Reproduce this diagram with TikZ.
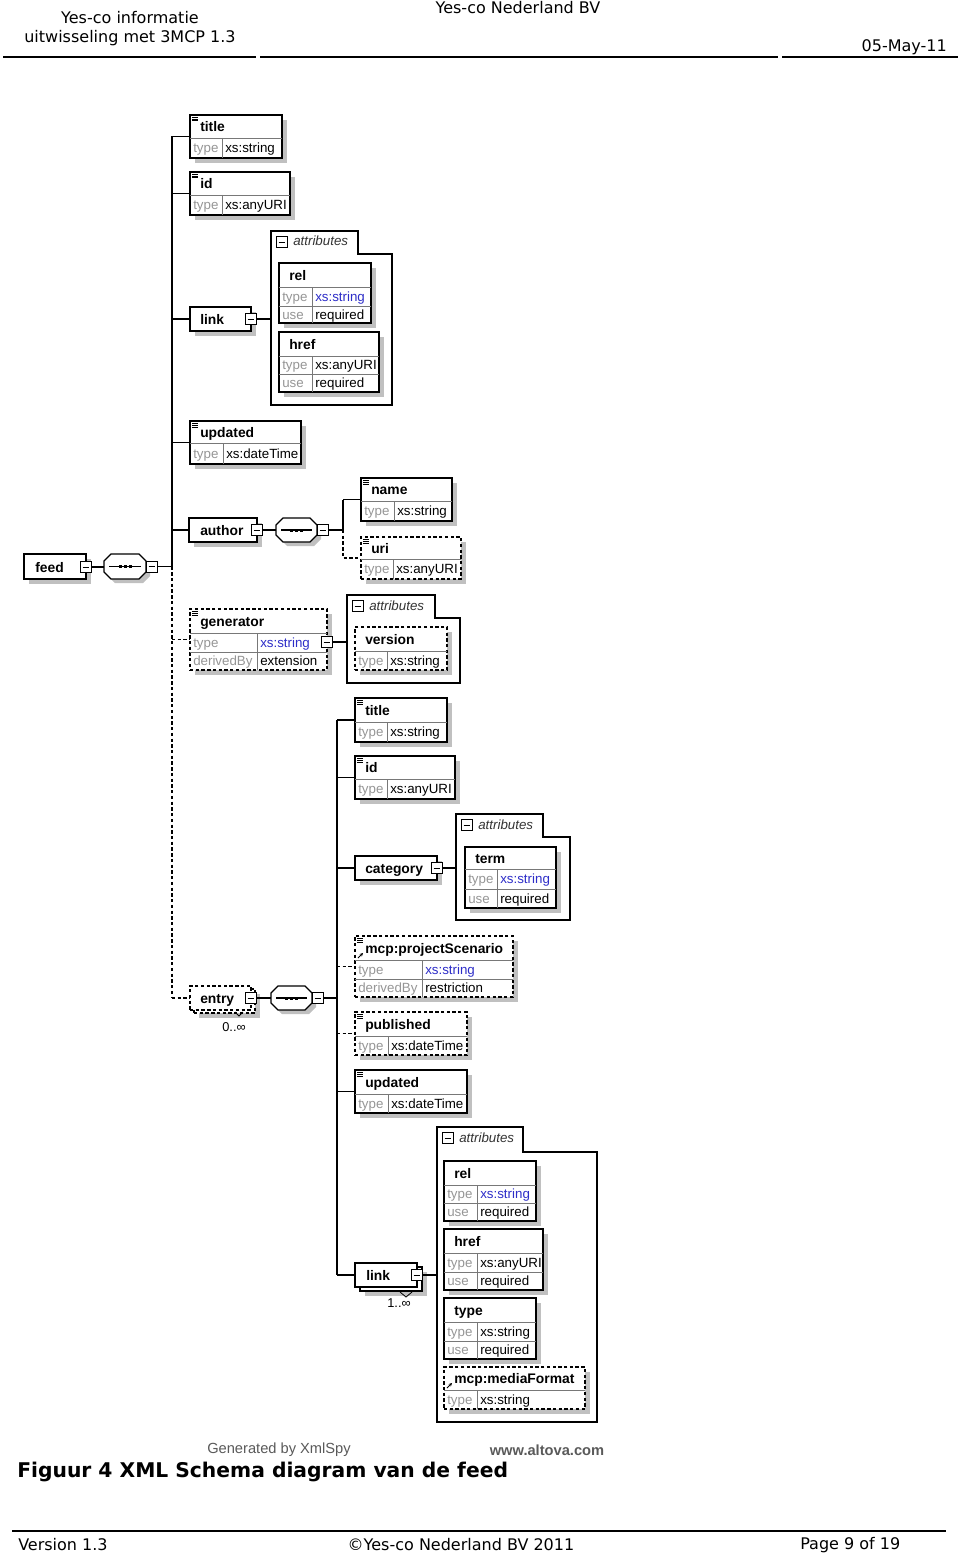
\documentclass[tikz,border=0pt]{standalone}
\usepackage{fontspec}
\setmainfont{Liberation Sans}
\newfontfamily\hdrfont{DejaVu Sans}
\usetikzlibrary{fit,shadows,arrows.meta}
\definecolor{shc}{RGB}{192,192,192}
\definecolor{lblc}{RGB}{150,150,150}
\definecolor{divc}{RGB}{120,120,120}
\definecolor{xsb}{RGB}{45,45,200}
\definecolor{genc}{RGB}{90,90,90}

\newcommand{\elem}[8]{%
  \node[#2, fit={(#3,#4)(#5,#6)}] (#1) {};
  \draw[div] (#3,#7) -- (#5,#7);
  \node[nm] (#1-n) at (#3+10,{(#4+#7)/2+5}) {#8};
}
\newcommand{\erow}[7]{%
  \draw[div] (#5,#3) -- (#5,#4);
  \node[lbl] (#1-l) at (#2+3,{(#3+#4)/2+4.5}) {#6};
  \node[val] (#1-v) at (#5+3,{(#3+#4)/2+4.5}) {#7};
}
\newcommand{\eqic}[2]{%
  \draw[line width=0.45pt] (#1+2,#2+2.2) -- (#1+8,#2+2.2) (#1+2,#2+4) -- (#1+8,#2+4) (#1+2,#2+5.8) -- (#1+8,#2+5.8);
}
\newcommand{\refic}[2]{%
  \draw[line width=0.7pt, -{Stealth[length=2.5pt,width=2.5pt]}] (#1+3,#2-2) -- (#1+8,#2-7);
}
\newcommand{\attrbox}[7]{%
  \draw[line width=1pt, fill=white] (#2,#3) -- (#4,#3) -- (#4,#5) -- (#6,#5) -- (#6,#7) -- (#2,#7) -- cycle;
  \node[inner sep=0pt, fit={(#2,#3)(#6,#7)}] (#1) {};
  \node[minus] (#1-m) at (#2+11,#3+11) {};
  \node[attrt] (#1-t) at (#2+22,#3+15) {attributes};
}
\newcommand{\seqbox}[5]{%
  \begin{scope}[shift={(4,4)}]
    \fill[shc] (#2+7,#3) -- (#4-7,#3) -- (#4,#3+7) -- (#4,#5-7) -- (#4-7,#5) -- (#2+7,#5) -- (#2,#5-7) -- (#2,#3+7) -- cycle;
  \end{scope}
  \draw[line width=1pt, fill=white] (#2+7,#3) -- (#4-7,#3) -- (#4,#3+7) -- (#4,#5-7) -- (#4-7,#5) -- (#2+7,#5) -- (#2,#5-7) -- (#2,#3+7) -- cycle;
  \node[inner sep=0pt, fit={(#2,#3)(#4,#5)}] (#1) {};
  \draw[line width=0.8pt] (#2+5,{(#3+#5)/2}) -- (#4-5,{(#3+#5)/2});
  \foreach \dx in {-5,0,5} \fill ({(#2+#4)/2+\dx-1.5},{(#3+#5)/2-1.5}) rectangle ++(3,3);
  \node[minus] (#1-m) at (#4+6,{(#3+#5)/2}) {};
}

\begin{document}
\begin{tikzpicture}[x=0.75pt,y=-0.75pt,
  shad/.style={drop shadow={shadow xshift=3.5pt, shadow yshift=-3.5pt, fill=shc, draw=none, opacity=1}},
  boxns/.style={draw, line width=1pt, fill=white, inner sep=0pt},
  box/.style={boxns, shad},
  dboxns/.style={boxns, dash pattern=on 2.5pt off 1.8pt},
  dbox/.style={dboxns, shad},
  nm/.style={anchor=base west, inner sep=0pt, font=\bfseries\fontsize{10.4}{12}\selectfont},
  lbl/.style={anchor=base west, inner sep=0pt, font=\fontsize{10}{12}\selectfont, text=lblc},
  val/.style={anchor=base west, inner sep=0pt, font=\fontsize{10}{12}\selectfont},
  attrt/.style={anchor=base west, inner sep=0pt, font=\itshape\fontsize{10}{12}\selectfont, text=black!80},
  div/.style={draw=divc, line width=0.6pt},
  con/.style={line width=1pt},
  dcon/.style={line width=1pt, dash pattern=on 2.5pt off 1.8pt},
  minus/.style={draw, line width=0.7pt, fill=white, minimum size=8.25pt, inner sep=0pt,
    path picture={\draw[line width=0.7pt] ([xshift=1.6pt]path picture bounding box.west) -- ([xshift=-1.6pt]path picture bounding box.east);}},
  hdr/.style={inner sep=0pt, font=\hdrfont\fontsize{12}{14}\selectfont},
  mult/.style={inner sep=0pt, font=\fontsize{9.6}{11}\selectfont}
]
\useasboundingbox (0,0) rectangle (960,1555);
\fill[white] (0,0) rectangle (960,1555);

% ---------- header ----------
\node[hdr] (h1) at (130,18) {Yes-co informatie};
\node[hdr] (h2) at (130,38) {uitwisseling met 3MCP 1.3};
\node[hdr] (h3) at (518,8) {Yes-co Nederland BV};
\node[hdr, anchor=east] (h4) at (947,47) {05-May-11};
\draw[line width=0.8pt] (3,57) -- (256,57) (260,57) -- (778,57) (782,57) -- (958,57);

% ---------- feed level ----------
\elem{title1}{box}{190}{115}{282}{158}{138}{title}
\eqic{190}{115}
\erow{title1r}{190}{138}{158}{222}{type}{xs:string}

\elem{id1}{box}{190}{172}{290}{215}{195}{id}
\eqic{190}{172}
\erow{id1r}{190}{195}{215}{222}{type}{xs:anyURI}

\node[box, fit={(190,307)(251,331)}] (link1) {};
\node[nm] (link1-n) at (200,324) {link};
\node[minus] (link1-m) at (251,319) {};

\attrbox{attr1}{271}{231}{358}{254}{392}{405}
\elem{rel1}{box}{279}{263}{371}{323}{287}{rel}
\draw[div] (279,306) -- (371,306);
\erow{rel1a}{279}{287}{306}{312}{type}{\textcolor{xsb}{xs:string}}
\erow{rel1b}{279}{306}{323}{312}{use}{required}
\elem{href1}{box}{279}{332}{379}{392}{356}{href}
\draw[div] (279,374) -- (379,374);
\erow{href1a}{279}{356}{374}{312}{type}{xs:anyURI}
\erow{href1b}{279}{374}{392}{312}{use}{required}

\elem{upd1}{box}{190}{421}{301}{464}{443}{updated}
\eqic{190}{421}
\erow{upd1r}{190}{443}{464}{223}{type}{xs:dateTime}

\node[box, fit={(189,518)(257,542)}] (author) {};
\node[nm] (author-n) at (200,535) {author};
\node[minus] (author-m) at (257,530) {};
\seqbox{seq2}{276}{518}{317}{542}

\elem{name}{box}{361}{478}{452}{521}{501}{name}
\eqic{361}{478}
\erow{namer}{361}{501}{521}{394}{type}{xs:string}
\elem{uri}{dbox}{361}{537}{461}{579}{559}{uri}
\eqic{361}{537}
\erow{urir}{361}{559}{579}{393}{type}{xs:anyURI}

\node[box, fit={(24,554)(86,579)}] (feed) {};
\node[nm] (feed-n) at (35,572) {feed};
\node[minus] (feed-m) at (86,567) {};
\seqbox{seq1}{104}{554}{146}{579}

\elem{gen}{dbox}{190}{609}{327}{670}{633}{generator}
\eqic{190}{609}
\draw[div] (190,652) -- (327,652);
\erow{gena}{190}{633}{652}{257}{type}{\textcolor{xsb}{xs:string}}
\erow{genb}{190}{652}{670}{257}{derivedBy}{extension}
\node[minus] (gen-m) at (327,642) {};
\attrbox{attr2}{347}{595}{435}{618}{460}{683}
\elem{ver}{dbox}{355}{627}{447}{670}{651}{version}
\erow{verr}{355}{651}{670}{387}{type}{xs:string}

% entry
\node[dbox, fit={(194,989)(255,1013)}] (entryb) {};
\node[dboxns, fit={(190,986)(251,1010)}] (entry) {};
\node[nm] (entry-n) at (200,1003) {entry};
\node[minus] (entry-m) at (251,998) {};
\draw[line width=0.6pt] (235,1012) -- (239,1016) -- (243,1012);
\node[mult] (entry-mult) at (234,1027) {0..∞};
\seqbox{seq3}{271}{986}{312}{1010}

% ---------- entry level ----------
\elem{title2}{box}{355}{698}{447}{742}{722}{title}
\eqic{355}{698}
\erow{title2r}{355}{722}{742}{387}{type}{xs:string}

\elem{id2}{box}{355}{756}{455}{799}{779}{id}
\eqic{355}{756}
\erow{id2r}{355}{779}{799}{387}{type}{xs:anyURI}

\node[box, fit={(355,856)(437,880)}] (cat) {};
\node[nm] (cat-n) at (365,873) {category};
\node[minus] (cat-m) at (437,868) {};
\attrbox{attr3}{456}{814}{543}{837}{570}{920}
\elem{term}{box}{465}{847}{556}{908}{869}{term}
\draw[div] (465,889) -- (556,889);
\erow{terma}{465}{869}{889}{497}{type}{\textcolor{xsb}{xs:string}}
\erow{termb}{465}{889}{908}{497}{use}{required}

\elem{ps}{dbox}{355}{936}{513}{997}{960}{mcp:projectScenario}
\eqic{355}{936}
\refic{355}{960}
\draw[div] (355,979) -- (513,979);
\erow{psa}{355}{960}{979}{422}{type}{\textcolor{xsb}{xs:string}}
\erow{psb}{355}{979}{997}{422}{derivedBy}{restriction}

\elem{pub}{dbox}{355}{1012}{467}{1055}{1036}{published}
\eqic{355}{1012}
\erow{pubr}{355}{1036}{1055}{388}{type}{xs:dateTime}

\elem{upd2}{box}{355}{1070}{467}{1113}{1094}{updated}
\eqic{355}{1070}
\erow{upd2r}{355}{1094}{1113}{388}{type}{xs:dateTime}

\node[box, fit={(360,1267)(422,1291)}] (link2b) {};
\node[boxns, fit={(355,1263)(417,1287)}] (link2) {};
\node[nm] (link2-n) at (366,1280) {link};
\node[minus] (link2-m) at (417,1275) {};
\draw[line width=0.6pt] (400,1292) -- (406,1297) -- (412,1292);
\node[mult] (link2-mult) at (399,1303) {1..∞};

\attrbox{attr4}{437}{1127}{523}{1152}{597}{1422}
\elem{rel2}{box}{444}{1161}{536}{1221}{1185}{rel}
\draw[div] (444,1203) -- (536,1203);
\erow{rel2a}{444}{1185}{1203}{477}{type}{\textcolor{xsb}{xs:string}}
\erow{rel2b}{444}{1203}{1221}{477}{use}{required}
\elem{href2}{box}{444}{1229}{543}{1290}{1253}{href}
\draw[div] (444,1272) -- (543,1272);
\erow{href2a}{444}{1253}{1272}{477}{type}{xs:anyURI}
\erow{href2b}{444}{1272}{1290}{477}{use}{required}
\elem{type2}{box}{444}{1298}{536}{1359}{1322}{type}
\draw[div] (444,1341) -- (536,1341);
\erow{type2a}{444}{1322}{1341}{477}{type}{xs:string}
\erow{type2b}{444}{1341}{1359}{477}{use}{required}
\elem{media}{dbox}{444}{1367}{585}{1409}{1390}{mcp:mediaFormat}
\refic{444}{1390}
\erow{mediar}{444}{1390}{1409}{477}{type}{xs:string}

% ---------- connectors ----------
\coordinate (b1) at (172,0);
\coordinate (b2) at (343,0);
\coordinate (b3) at (337,0);
% feed
\draw[con] (feed-m.east) -- (feed-m.east -| seq1.west);
\draw[con] (seq1-m.east) -- (seq1-m.east -| b1);
\draw[con] (title1.west -| b1) -- (seq1-m.east -| b1);
\draw[dcon] (seq1-m.east -| b1) -- (entry.west -| b1);
\draw[con] (title1.west -| b1) -- (title1.west);
\draw[con] (id1.west -| b1) -- (id1.west);
\draw[con] (link1.west -| b1) -- (link1.west);
\draw[con] (upd1.west -| b1) -- (upd1.west);
\draw[con] (author.west -| b1) -- (author.west);
\draw[dcon] (gen.west -| b1) -- (gen.west);
\draw[dcon] (entry.west -| b1) -- (entry.west);
\draw[con] (link1-m.east) -- (link1-m.east -| attr1.west);
\draw[con] (gen-m.east) -- (gen-m.east -| attr2.west);
% author
\draw[con] (author-m.east) -- (author-m.east -| seq2.west);
\draw[con] (seq2-m.east) -- (seq2-m.east -| b2);
\draw[con] (name.west -| b2) -- (seq2-m.east -| b2);
\draw[con] (name.west -| b2) -- (name.west);
\draw[dcon] (seq2-m.east -| b2) -- (uri.west -| b2) -- (uri.west);
% entry
\draw[con] (entry-m.east) -- (entry-m.east -| seq3.west);
\draw[con] (seq3-m.east) -- (seq3-m.east -| b3);
\draw[con] (title2.west -| b3) -- (link2.west -| b3);
\draw[con] (title2.west -| b3) -- (title2.west);
\draw[con] (id2.west -| b3) -- (id2.west);
\draw[con] (cat.west -| b3) -- (cat.west);
\draw[dcon] (ps.west -| b3) -- (ps.west);
\draw[dcon] (pub.west -| b3) -- (pub.west);
\draw[con] (upd2.west -| b3) -- (upd2.west);
\draw[con] (link2.west -| b3) -- (link2.west);
\draw[con] (cat-m.east) -- (cat-m.east -| attr3.west);
\draw[con] (link2-m.east) -- (link2-m.east -| attr4.west);

% ---------- caption / footer ----------
\node[inner sep=0pt, font=\fontsize{11}{13}\selectfont, text=genc] (gby) at (279,1450) {Generated by XmlSpy};
\node[inner sep=0pt, font=\bfseries\fontsize{11}{13}\selectfont, text=genc] (alt) at (547,1450) {www.altova.com};
\node[anchor=west, inner sep=0pt, font=\hdrfont\bfseries\fontsize{15.2}{18}\selectfont] (cap) at (17,1472) {Figuur 4 XML Schema diagram van de feed};
\draw[line width=0.8pt] (12,1531) -- (946,1531);
\node[hdr, anchor=west] (f1) at (18,1545) {Version 1.3};
\node[hdr] (f2) at (461,1545) {©Yes-co Nederland BV 2011};
\node[hdr, anchor=west] (f3) at (800,1545) {Page 9 of 19};
\end{tikzpicture}
\end{document}
